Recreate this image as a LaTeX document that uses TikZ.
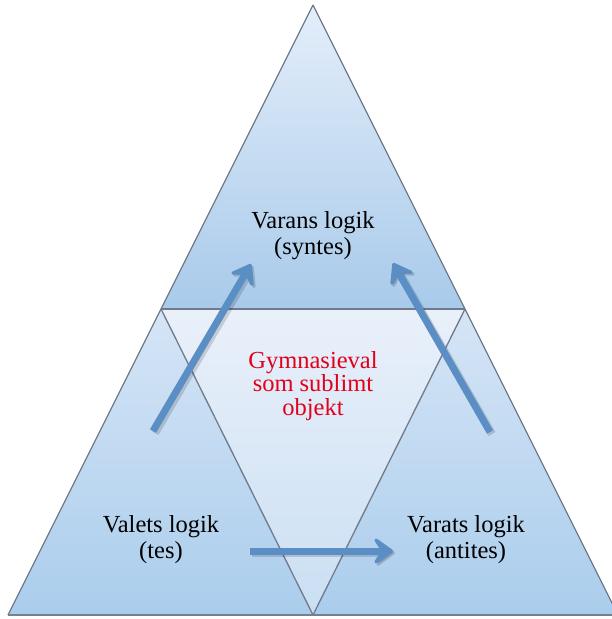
\documentclass[tikz,border=0pt]{standalone}
\usepackage{fontspec}
\setmainfont{Liberation Serif}
\usetikzlibrary{arrows.meta}
\definecolor{edgegray}{RGB}{112,122,138}
\definecolor{basegray}{RGB}{120,128,140}
\definecolor{arrowblue}{RGB}{92,142,198}
\definecolor{labelred}{RGB}{226,0,26}
\definecolor{topA}{RGB}{228,238,250}
\definecolor{topB}{RGB}{168,202,234}
\definecolor{lowA}{RGB}{214,229,246}
\definecolor{lowB}{RGB}{170,205,236}
\definecolor{inA}{RGB}{233,240,250}
\definecolor{inB}{RGB}{202,223,243}
\tikzset{
  edge/.style={draw=edgegray, line width=1.3pt, line join=round},
  flowarrow/.style={draw=arrowblue, line width=7pt,
    -{Stealth[length=24pt 0 0,width=34pt 0 0,inset=11pt 0,round]}},
  flowshadow/.style={draw=black, opacity=0.15, line width=8pt,
    -{Stealth[length=24pt 0 0,width=35pt 0 0,inset=11pt 0,round]}},
  blacklabel/.style={align=center, font=\fontsize{24.5}{26}\selectfont, text=black, inner sep=0pt},
  redlabel/.style={align=center, font=\fontsize{24.5}{23.5}\selectfont, text=labelred, inner sep=0pt}
}
\begin{document}
\begin{tikzpicture}[x=1pt,y=-1pt]
\useasboundingbox (0,0) rectangle (612,619);
\clip (0,0) rectangle (612,619);
\fill[white] (0,0) rectangle (612,619);
% key points
\coordinate (apex) at (313,5);
\coordinate (bl) at (8,615);
\coordinate (br) at (618,615);
\coordinate (ml) at (161,309);
\coordinate (mr) at (465,309);
\coordinate (bm) at (313,615);
% fills
\shade[top color=lowA, bottom color=lowB] (ml) -- (bl) -- (br) -- (mr) -- cycle;
\shade[top color=topA, bottom color=topB] (apex) -- (ml) -- (mr) -- cycle;
\shade[top color=inA, bottom color=inB] (ml) -- (mr) -- (bm) -- cycle;
% outlines
\draw[edge] (apex) -- (bl);
\draw[edge] (apex) -- (br);
\draw[edge] (ml) -- (mr);
\draw[edge] (ml) -- (bm) -- (mr);
\draw[draw=basegray, line width=2.5pt] (bl) -- (br);
% labels
\node[blacklabel] (syn) at (313,236) {Varans logik\\(syntes)};
\node[redlabel] (sub) at (313,386) {Gymnasieval\\som sublimt\\objekt};
\node[blacklabel] (tes) at (161,540) {Valets logik\\(tes)};
\node[blacklabel] (ant) at (466,540) {Varats logik\\(antites)};
% arrow ends
\coordinate (l0) at (153,431);
\coordinate (l1) at (251,264);
\coordinate (r0) at (490,432);
\coordinate (r1) at (393,263);
\coordinate (b0) at (250,551);
\coordinate (b1) at (393,551);
\coordinate (l0s) at (155,433);
\coordinate (l1s) at (253,266);
\coordinate (r0s) at (492,434);
\coordinate (r1s) at (395,265);
\coordinate (b0s) at (252,553);
\coordinate (b1s) at (395,553);
% arrows
\draw[flowshadow] (l0s) -- (l1s);
\draw[flowshadow] (r0s) -- (r1s);
\draw[flowshadow] (b0s) -- (b1s);
\draw[flowarrow] (l0) -- (l1);
\draw[flowarrow] (r0) -- (r1);
\draw[flowarrow] (b0) -- (b1);
\end{tikzpicture}
\end{document}
